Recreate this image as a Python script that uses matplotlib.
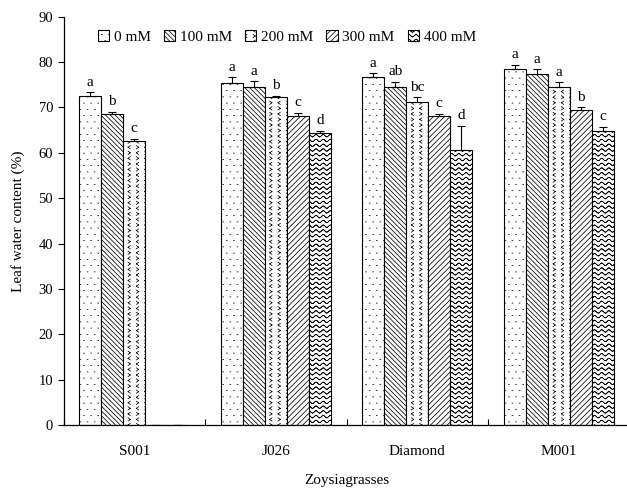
import warnings

import matplotlib
matplotlib.use('Agg')
import matplotlib.hatch as mhatch
import matplotlib.pyplot as plt
import numpy as np
from matplotlib.path import Path

warnings.filterwarnings('ignore', message='hatch must consist')

plt.rcParams['font.family'] = 'Liberation Serif'
plt.rcParams['hatch.linewidth'] = 0.55


grasses = ['S001', 'J026', 'Diamond', 'M001']
salt_levels = ['0 mM', '100 mM', '200 mM', '300 mM', '400 mM']

# leaf water content (%) per salt level, one value per grass
lwc_0 = [72.5, 75.4, 76.6, 78.5]
lwc_100 = [68.5, 74.6, 74.6, 77.4]
lwc_200 = [62.6, 72.3, 71.1, 74.6]
lwc_300 = [0.0, 68.0, 68.0, 69.4]
lwc_400 = [0.0, 64.3, 60.6, 64.8]

sd_0 = [0.9, 1.3, 0.9, 0.9]
sd_100 = [0.6, 1.2, 1.1, 1.0]
sd_200 = [0.5, 0.3, 1.2, 0.9]
sd_300 = [0.0, 0.8, 0.6, 0.6]
sd_400 = [0.0, 0.6, 5.4, 0.9]

sig_0 = ['a', 'a', 'a', 'a']
sig_100 = ['b', 'a', 'ab', 'a']
sig_200 = ['c', 'b', 'bc', 'a']
sig_300 = ['', 'c', 'c', 'b']
sig_400 = ['', 'd', 'd', 'c']


def _segments_to(vertices, codes, segs):
    vertices[:] = np.array(segs)
    codes[0::2] = Path.MOVETO
    codes[1::2] = Path.LINETO


class DotHatch(mhatch.HatchPatternBase):
    """Sparse tiny dots on a staggered grid, used for ':'."""
    cols = 14
    rows = 16
    d = 0.004

    def __init__(self, hatch, density):
        n = self.cols * self.rows if ':' in hatch else 0
        self.num_vertices = n * 2

    def set_vertices_and_codes(self, vertices, codes):
        segs = []
        for j in range(self.rows):
            shift = 0.25 if j % 2 == 0 else 0.75
            for i in range(self.cols):
                cx = (i + shift) / self.cols
                cy = (j + 0.5) / self.rows
                segs.extend([(cx - self.d, cy), (cx + self.d, cy)])
        _segments_to(vertices, codes, segs)


class WaveHatch(mhatch.HatchPatternBase):
    """Horizontal wavy lines, used for '~'."""
    rows = 21
    periods = 14
    steps = 8
    amp = 0.012

    def __init__(self, hatch, density):
        n = self.rows if '~' in hatch else 0
        self.num_vertices = n * self.periods * self.steps * 2

    def set_vertices_and_codes(self, vertices, codes):
        xs = np.linspace(0, 1, self.periods * self.steps + 1)
        wave = self.amp * np.sin(2 * np.pi * self.periods * xs)
        segs = []
        for j in range(self.rows):
            pts = np.column_stack([xs, (j + 0.5) / self.rows + wave])
            for a, b in zip(pts[:-1], pts[1:]):
                segs.extend([a, b])
        _segments_to(vertices, codes, segs)


class ChevronHatch(mhatch.HatchPatternBase):
    """Small '<' and '>' marks on a grid, used for '<'."""
    cols = 12
    rows = 18
    w = 0.022
    h = 0.016

    def __init__(self, hatch, density):
        n = self.cols * self.rows if '<' in hatch else 0
        self.num_vertices = n * 4

    def set_vertices_and_codes(self, vertices, codes):
        segs = []
        for j in range(self.rows):
            for i in range(self.cols):
                cx = (i + 0.5) / self.cols
                cy = (j + 0.5) / self.rows
                s = 1 if (i + j) % 2 == 0 else -1
                tip = (cx - s * self.w / 2, cy)
                top = (cx + s * self.w / 2, cy + self.h)
                bot = (cx + s * self.w / 2, cy - self.h)
                segs.extend([top, tip, tip, bot])
        _segments_to(vertices, codes, segs)


mhatch._hatch_types.extend([DotHatch, WaveHatch, ChevronHatch])

values = [lwc_0, lwc_100, lwc_200, lwc_300, lwc_400]
errors = [sd_0, sd_100, sd_200, sd_300, sd_400]
letters = [sig_0, sig_100, sig_200, sig_300, sig_400]
hatches = [':', '\\' * 7, '<', '/' * 6, '~']

fig = plt.figure(figsize=(6.27, 4.88), dpi=100)
ax = fig.add_axes([0.1013, 0.1291, 0.9027, 0.8367])

x = np.arange(len(grasses))
width = 0.1555

handles = []
for k, (vals, errs, sig, hatch) in enumerate(zip(values, errors, letters, hatches)):
    pos = x + (k - 2) * width
    bars = ax.bar(pos, vals, width, color='white', edgecolor='black',
                  linewidth=0.8, hatch=hatch, label=salt_levels[k], zorder=2)
    handles.append(bars)
    ax.errorbar(pos, vals, yerr=[np.zeros(len(errs)), errs], fmt='none',
                ecolor='black', elinewidth=0.8, capsize=3.2, capthick=0.8,
                zorder=3)
    for p, v, e, s in zip(pos, vals, errs, sig):
        if s:
            ax.annotate(s, (p, v + e), xytext=(0, 2.5),
                        textcoords='offset points', ha='center', va='bottom',
                        fontsize=11)

ax.set_xlim(-0.5, 3.5)
ax.set_ylim(0, 90)
ax.set_yticks(np.arange(0, 91, 10))
ax.tick_params(axis='y', direction='out', length=4, width=0.8, labelsize=10.5)

ax.set_xticks(np.arange(-0.5, 3.6, 1.0))
ax.set_xticklabels([])
ax.set_xticks(x, minor=True)
ax.set_xticklabels(grasses, minor=True)
ax.tick_params(axis='x', which='major', direction='in', length=4, width=0.8)
ax.tick_params(axis='x', which='minor', length=0, pad=14.5, labelsize=11)

for side in ['top', 'right']:
    ax.spines[side].set_visible(False)
for side in ['left', 'bottom']:
    ax.spines[side].set_linewidth(0.9)

ax.set_ylabel('Leaf water content (%)', fontsize=11)
ax.yaxis.set_label_coords(-0.068, 0.5)
ax.set_xlabel('Zoysiagrasses', fontsize=11)
ax.xaxis.set_label_coords(0.5, -0.12)

fig.legend(handles=handles, loc='center left', ncol=5, frameon=False,
           bbox_to_anchor=(90 / 627, 1 - 37 / 488), borderpad=0,
           handlelength=0.75, handleheight=0.75, handletextpad=0.3,
           columnspacing=0.85, fontsize=11)

fig.savefig('out.png', dpi=100)
